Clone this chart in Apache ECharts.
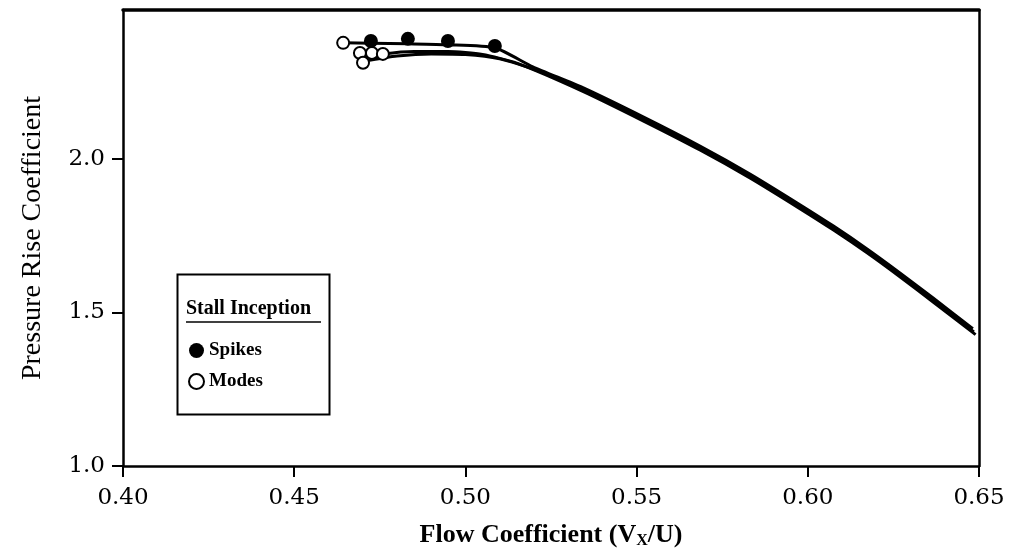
<!DOCTYPE html>
<html>
<head>
<meta charset="utf-8">
<script src="https://cdn.jsdelivr.net/npm/echarts@6/dist/echarts.min.js"></script>
<style>html,body{margin:0;padding:0;background:#fff}#c{width:1018px;height:556px}</style>
</head>
<body>
<div id="c"></div>
<script>
// ---- data ----
const xTicks = [0.40, 0.45, 0.50, 0.55, 0.60, 0.65];
const yTicks = [1.0, 1.5, 2.0];

const spikesX = [0.4724, 0.4832, 0.4949, 0.5086];
const spikesY = [2.384, 2.391, 2.384, 2.368];

const modesX = [0.4643, 0.4692, 0.4727, 0.4759, 0.4701];
const modesY = [2.378, 2.345, 2.345, 2.342, 2.313];

// characteristic curves (several runs)
const curveAX = [0.4643, 0.4724, 0.4832, 0.4949, 0.5086, 0.5197, 0.5343, 0.5519, 0.5685, 0.5831, 0.5977, 0.6074, 0.6173, 0.6269, 0.6366, 0.6482];
const curveAY = [2.378, 2.377, 2.375, 2.372, 2.362, 2.300, 2.232, 2.137, 2.042, 1.951, 1.851, 1.782, 1.707, 1.629, 1.547, 1.447];
const curveBX = [0.4692, 0.4760, 0.4850, 0.4950, 0.5050, 0.5150, 0.5343, 0.5519, 0.5685, 0.5831, 0.5977, 0.6074, 0.6173, 0.6269, 0.6366, 0.6490];
const curveBY = [2.328, 2.342, 2.350, 2.350, 2.340, 2.312, 2.220, 2.124, 2.029, 1.938, 1.838, 1.769, 1.694, 1.616, 1.534, 1.428];
const curveCX = [0.4701, 0.4800, 0.4900, 0.5000, 0.5100, 0.5200, 0.5343, 0.5519, 0.5685, 0.5831, 0.5977, 0.6074, 0.6173, 0.6269, 0.6366, 0.6485];
const curveCY = [2.318, 2.335, 2.342, 2.340, 2.326, 2.292, 2.226, 2.130, 2.035, 1.944, 1.844, 1.775, 1.700, 1.622, 1.540, 1.437];

const zip = (xs, ys) => xs.map((x, i) => [x, ys[i]]);

const serif = 'Liberation Serif';
const chart = echarts.init(document.getElementById('c'));

const lineSeries = (d) => ({
  type: 'line', data: d, symbol: 'none', silent: true, smooth: 0.2,
  lineStyle: { color: '#000', width: 3 }, z: 2, legendHoverLink: false
});

chart.setOption({
  animation: false,
  grid: { left: 123, right: 39, top: 10, bottom: 90, show: false },
  legend: {
    data: ['Spikes', 'Modes'],
    orient: 'vertical', left: 188, top: 341,
    itemWidth: 15, itemHeight: 15, itemGap: 12, padding: 0,
    icon: 'circle',
    textStyle: { fontFamily: serif, fontSize: 19, fontWeight: 'bold', color: '#000' }
  },
  xAxis: [{
    type: 'value', min: 0.40, max: 0.65, interval: 0.05,
    position: 'bottom',
    axisLine: { lineStyle: { color: '#000', width: 2.5 } },
    axisTick: { show: true, length: 11, lineStyle: { color: '#000', width: 2 } },
    splitLine: { show: false },
    axisLabel: {
      margin: 21, fontFamily: 'DejaVu Serif', fontSize: 23, color: '#000',
      formatter: v => v.toFixed(2)
    },
    name: '{a|Flow Coefficient (V}{s|X}{a|/U)}',
    nameLocation: 'middle', nameGap: 55,
    nameTextStyle: {
      rich: {
        a: { fontFamily: serif, fontSize: 26, fontWeight: 'bold', color: '#000' },
        s: { fontFamily: serif, fontSize: 16, fontWeight: 'bold', color: '#000', verticalAlign: 'bottom', padding: [12, 0, 0, 0] }
      }
    }
  }, {
    type: 'value', min: 0.40, max: 0.65, interval: 0.05,
    position: 'top',
    axisLine: { lineStyle: { color: '#000', width: 3.5 } },
    axisTick: { show: false }, axisLabel: { show: false }, splitLine: { show: false }
  }],
  yAxis: [{
    type: 'value', min: 1.0, max: 2.485, interval: 0.5,
    axisLine: { show: true, lineStyle: { color: '#000', width: 2.5 } },
    axisTick: { show: true, length: 11, lineStyle: { color: '#000', width: 2 } },
    splitLine: { show: false },
    axisLabel: {
      margin: 18, fontFamily: 'DejaVu Serif', fontSize: 23, color: '#000',
      showMaxLabel: false,
      formatter: v => (yTicks.some(t => Math.abs(t - v) < 1e-6) ? v.toFixed(1) : '')
    },
    name: 'Pressure Rise Coefficient',
    nameLocation: 'middle', nameGap: 76,
    nameTextStyle: { fontFamily: serif, fontSize: 28, color: '#000' }
  }, {
    type: 'value', min: 1.0, max: 2.485, interval: 0.5,
    position: 'right',
    axisLine: { show: true, lineStyle: { color: '#000', width: 2.5 } },
    axisTick: { show: false }, axisLabel: { show: false }, splitLine: { show: false }
  }],
  graphic: [
    { type: 'rect', left: 175, top: 272, shape: { width: 152, height: 140 },
      style: { fill: 'none', stroke: '#000', lineWidth: 2 }, z: 10 },
    { type: 'text', left: 186, top: 299,
      style: { text: 'Stall Inception', font: 'bold 20px "Liberation Serif"', fill: '#000' }, z: 10 },
    { type: 'line', shape: { x1: 186, y1: 322, x2: 321, y2: 322 },
      style: { stroke: '#000', lineWidth: 1.5 }, z: 10 }
  ],
  series: [
    lineSeries(zip(curveAX, curveAY)),
    lineSeries(zip(curveBX, curveBY)),
    lineSeries(zip(curveCX, curveCY)),
    {
      name: 'Spikes', type: 'scatter', data: zip(spikesX, spikesY),
      symbol: 'circle', symbolSize: 14, z: 5,
      itemStyle: { color: '#000', opacity: 1 }
    },
    {
      name: 'Modes', type: 'scatter', data: zip(modesX, modesY),
      symbol: 'circle', symbolSize: 12, z: 6,
      itemStyle: { color: '#fff', borderColor: '#000', borderWidth: 2, opacity: 1 }
    }
  ]
});
</script>
</body>
</html>
